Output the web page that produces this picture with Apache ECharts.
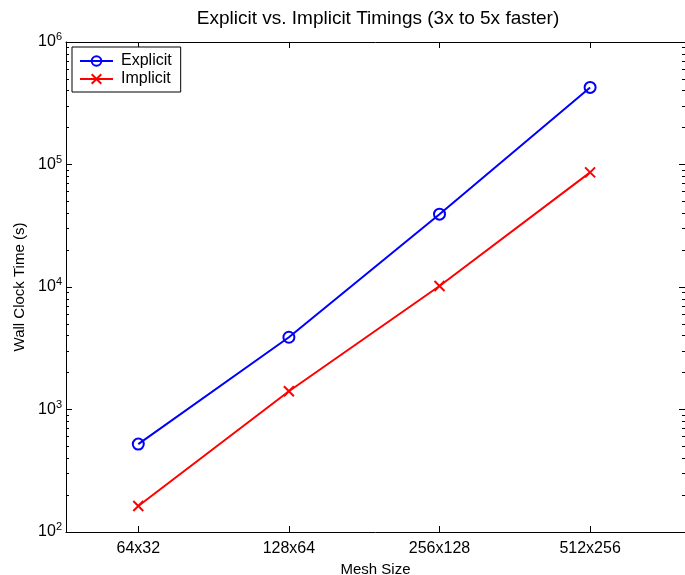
<!DOCTYPE html>
<html>
<head>
<meta charset="utf-8">
<script src="https://cdn.jsdelivr.net/npm/echarts@6/dist/echarts.min.js"></script>
<style>
  html, body { margin: 0; padding: 0; background: #fff; }
  #chart { width: 685px; height: 575px; }
</style>
</head>
<body>
<div id="chart"></div>
<script>
const meshSizes = ['64x32', '128x64', '256x128', '512x256'];
const explicitTimes = [522, 3890, 39300, 426000];
const implicitTimes = [163, 1410, 10200, 86300];
const decades = [2, 3, 4, 5];

const font = "'Liberation Sans', Arial, sans-serif";

// minor tick spots (2..9 x 10^d), in log10 space
const minorTicks = [];
decades.forEach(d => {
  for (let k = 2; k <= 9; k++) minorTicks.push(d + Math.log10(k));
});

const toPoints = arr => arr.map((v, i) => [i + 1, v]);

const chart = echarts.init(document.getElementById('chart'));

const gridBox = { left: 66, right: 0, top: 42, bottom: 43, containLabel: false, outerBoundsMode: 'none' };

const xBase = {
  type: 'value',
  gridIndex: 0,
  min: 0.52,
  max: 4.63,
  splitLine: { show: false },
  axisLine: { lineStyle: { color: '#000', width: 1 } },
  axisTick: { inside: true, length: 6, customValues: [1, 2, 3, 4], lineStyle: { color: '#000' } },
};

const majorY = {
  type: 'log',
  logBase: 10,
  min: 100,
  max: 1000000,
  gridIndex: 0,
  splitLine: { show: false },
  axisLine: { lineStyle: { color: '#000', width: 1 } },
  axisTick: { inside: true, length: 6, lineStyle: { color: '#000' } },
};

// second grid only carries the minor ticks of the log axis
const minorY = {
  type: 'value',
  min: 2,
  max: 6,
  gridIndex: 1,
  splitLine: { show: false },
  axisLine: { show: false, onZero: false },
  axisTick: { show: true, inside: true, length: 3, customValues: minorTicks, lineStyle: { color: '#000' } },
  axisLabel: { show: false },
};

const option = {
  animation: false,
  backgroundColor: '#fff',
  title: {
    text: 'Explicit vs. Implicit Timings (3x to 5x faster)',
    left: 378,
    top: 9,
    textAlign: 'center',
    padding: 0,
    textStyle: { fontFamily: font, fontSize: 19, fontWeight: 'normal', color: '#000' },
  },
  grid: [gridBox, Object.assign({}, gridBox)],
  legend: {
    orient: 'vertical',
    left: 72,
    top: 47,
    padding: [6, 9, 5, 7],
    itemGap: 2,
    itemWidth: 33,
    itemHeight: 12,
    borderColor: '#000',
    borderWidth: 1,
    backgroundColor: '#fff',
    textStyle: { fontFamily: font, fontSize: 16, color: '#000', padding: [0, 0, 0, 3] },
    data: ['Explicit', 'Implicit'],
  },
  xAxis: [
    Object.assign({}, xBase, {
      position: 'bottom',
      name: 'Mesh Size',
      nameLocation: 'middle',
      nameGap: 25,
      nameTextStyle: { fontFamily: font, fontSize: 15, color: '#000' },
      axisLabel: {
        customValues: [1, 2, 3, 4],
        margin: 9,
        fontFamily: font,
        fontSize: 16,
        color: '#000',
        formatter: v => meshSizes[Math.round(v) - 1] || '',
      },
    }),
    Object.assign({}, xBase, {
      position: 'top',
      axisLabel: { show: false },
    }),
    {
      type: 'value',
      gridIndex: 1,
      min: 0.52,
      max: 4.63,
      show: false,
    },
  ],
  yAxis: [
    Object.assign({}, majorY, {
      position: 'left',
      name: 'Wall Clock Time (s)',
      nameLocation: 'middle',
      nameGap: 36,
      nameRotate: 90,
      nameTextStyle: { fontFamily: font, fontSize: 15, color: '#000' },
      axisLabel: {
        margin: 4,
        fontFamily: font,
        fontSize: 16,
        color: '#000',
        formatter: v => '10{s|' + Math.round(Math.log10(v)) + '}',
        rich: {
          s: { fontFamily: font, fontSize: 11, color: '#000', padding: [0, 0, 10, 0] },
        },
      },
    }),
    Object.assign({}, majorY, {
      position: 'right',
      axisLabel: { show: false },
    }),
    Object.assign({}, minorY, { position: 'left' }),
    Object.assign({}, minorY, { position: 'right' }),
  ],
  series: [
    {
      name: 'Explicit',
      type: 'line',
      xAxisIndex: 0,
      yAxisIndex: 0,
      data: toPoints(explicitTimes),
      symbol: 'circle',
      symbolSize: 11,
      lineStyle: { color: '#0000ff', width: 2 },
      itemStyle: { color: 'rgba(255,255,255,0)', borderColor: '#0000ff', borderWidth: 2 },
      emphasis: { disabled: true },
      z: 3,
    },
    {
      name: 'Implicit',
      type: 'line',
      xAxisIndex: 0,
      yAxisIndex: 0,
      data: toPoints(implicitTimes),
      symbol: 'path://M0,0L10,10M10,0L0,10',
      symbolSize: 10,
      lineStyle: { color: '#ff0000', width: 2 },
      itemStyle: { color: '#ff0000', borderColor: '#ff0000', borderWidth: 2 },
      emphasis: { disabled: true },
      z: 3,
    },
  ],
};

chart.setOption(option);
</script>
</body>
</html>
